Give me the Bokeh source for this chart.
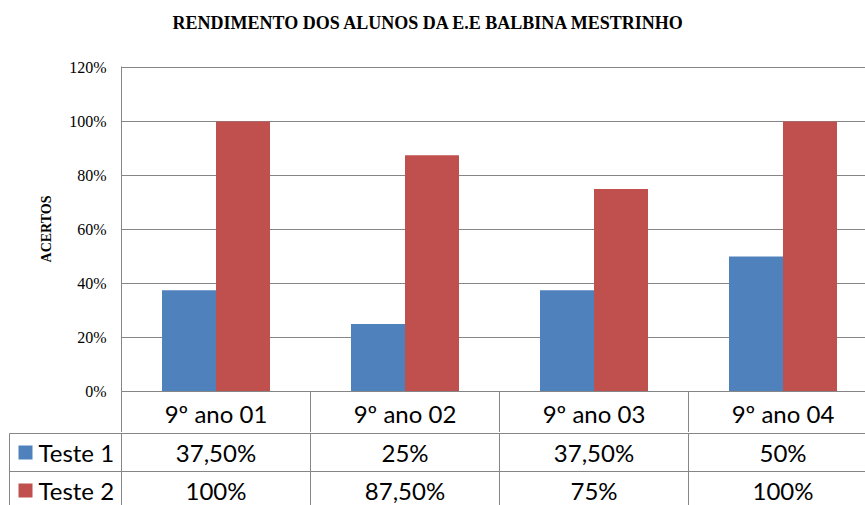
from bokeh.plotting import figure
from bokeh.models import (Range1d, FixedTicker, NumeralTickFormatter, CustomJSTickFormatter,
                          ColumnDataSource, Title)
from bokeh.transform import dodge
from bokeh.core.properties import value
from bokeh.embed import file_html
from bokeh.resources import INLINE

# ---------------- data ----------------
title = "RENDIMENTO DOS  ALUNOS DA E.E BALBINA MESTRINHO"
categories = ["9º ano 01", "9º ano 02", "9º ano 03", "9º ano 04"]
series_names = ["Teste 1", "Teste 2"]
teste1 = [0.375, 0.25, 0.375, 0.50]
teste2 = [1.00, 0.875, 0.75, 1.00]
y_ticks = [0, 0.2, 0.4, 0.6, 0.8, 1.0, 1.2]
y_label = "ACERTOS"

# ---------------- style / layout ----------------
BLUE = "#4F81BD"
RED = "#C0504D"
GRID = "#868686"
SERIF = "Liberation Serif"
SANS = "Lato"
TXT = "24px"

WIDTH = 865
CAT_PX = 189.0           # pixels per category
Y_PX = 270.0             # pixels per 100%
FRAME_LEFT = 121
FRAME_TOP = 66
HEADER_PX = 41           # category header row height (below 0%)
FIG_A_H = 432
ROW_PX = 38.0
FIG_B_H = 505 - FIG_A_H
X_END = (WIDTH - FRAME_LEFT) / CAT_PX
BAR_W = 1 / 3.5          # gap width 150%


def fmt(v):
    pc = v * 100
    if abs(pc - round(pc)) < 1e-9:
        return f"{int(round(pc))}%"
    return f"{pc:.2f}".replace(".", ",") + "%"


centers = [i + 0.5 for i in range(len(categories))]
src = ColumnDataSource(dict(x=centers, t1=teste1, t2=teste2, cat=categories))

# ---------------- chart ----------------
y_top = y_ticks[-1] + 1 / Y_PX
p = figure(width=WIDTH, height=FIG_A_H, output_backend="svg", toolbar_location=None,
           x_range=Range1d(0, X_END), y_range=Range1d(0, y_top),
           min_border_left=FRAME_LEFT, min_border_right=0, min_border_top=FRAME_TOP,
           min_border_bottom=HEADER_PX, outline_line_color=None,
           background_fill_color="white", border_fill_color="white")

# spacer between title and plot area (closest to the frame)
p.add_layout(Title(text=" ", text_font_size="10px", standoff=16), "above")
p.title.text = title
p.title.text_font = SERIF
p.title.text_font_size = "18px"
p.title.text_font_style = "bold"
p.title.align = "left"
p.title.offset = 51
p.title.standoff = 10
p.title.text_color = "black"

p.vbar(x=dodge("x", -BAR_W / 2, range=p.x_range), top="t1", width=BAR_W, source=src,
       fill_color=BLUE, line_color=None)
p.vbar(x=dodge("x", BAR_W / 2, range=p.x_range), top="t2", width=BAR_W, source=src,
       fill_color=RED, line_color=None)

p.xgrid.visible = False
p.ygrid.grid_line_color = GRID
p.ygrid.grid_line_width = 1
p.ygrid.ticker = FixedTicker(ticks=y_ticks)

ya = p.yaxis[0]
ya.ticker = FixedTicker(ticks=y_ticks)
ya.formatter = NumeralTickFormatter(format="0%")
ya.axis_line_color = GRID
ya.major_tick_out = 0
ya.major_tick_in = 0
ya.minor_tick_out = 0
ya.major_label_text_font = SERIF
ya.major_label_text_font_size = "16px"
ya.major_label_text_color = "black"
ya.major_label_standoff = 15
ya.axis_label = y_label
ya.axis_label_text_font = SERIF
ya.axis_label_text_font_size = "14px"
ya.axis_label_text_font_style = "bold"
ya.axis_label_text_color = "black"
ya.axis_label_standoff = 12

# category header row = x axis: minor ticks are the cell separators
xa = p.xaxis[0]
xa.ticker = FixedTicker(ticks=centers, minor_ticks=list(range(len(categories) + 1)))
xa.formatter = CustomJSTickFormatter(args=dict(labels=categories),
                                     code="return labels[Math.floor(tick)];")
xa.axis_line_color = GRID
xa.major_tick_out = 0
xa.major_tick_in = 0
xa.minor_tick_in = 0
xa.minor_tick_out = HEADER_PX
xa.minor_tick_line_color = GRID
xa.major_label_text_font = SANS
xa.major_label_text_font_size = TXT
xa.major_label_text_color = "black"
xa.major_label_standoff = -HEADER_PX + 7

# ---------------- data table rows ----------------
t_start = -FRAME_LEFT / CAT_PX
ty_top = 2 + 1 / ROW_PX
ty_bottom = ty_top - FIG_B_H / ROW_PX
t = figure(width=WIDTH, height=FIG_B_H, output_backend="svg", toolbar_location=None,
           x_range=Range1d(t_start, X_END), y_range=Range1d(ty_bottom, ty_top),
           min_border_left=0, min_border_right=0, min_border_top=0, min_border_bottom=0,
           outline_line_color=None, background_fill_color="white", border_fill_color="white")
t.axis.visible = False
t.grid.visible = False

left_edge = t_start + 9 / CAT_PX
t.segment(x0=[left_edge, left_edge], y0=[2, 1], x1=[X_END, X_END], y1=[2, 1],
          line_color=GRID, line_width=1)
vx = [left_edge] + list(range(len(categories) + 1))
t.segment(x0=vx, y0=[ty_bottom] * len(vx), x1=vx, y1=[2] * len(vx),
          line_color=GRID, line_width=1)

rows_y = [1.5, 0.5]
for vals, name, col, ry in zip([teste1, teste2], series_names, [BLUE, RED], rows_y):
    t.text(x=centers, y=[ry] * len(centers), text=[fmt(v) for v in vals],
           text_font=value(SANS), text_font_size=TXT, text_align="center",
           text_baseline="middle", text_color="black")
    t.scatter(x=[t_start + 25 / CAT_PX], y=[ry], marker="square", size=14,
              fill_color=col, line_color=None)
    t.text(x=[t_start + 38 / CAT_PX], y=[ry], text=[name], text_font=value(SANS),
           text_font_size=TXT, text_align="left", text_baseline="middle",
           text_color="black")

open("out.html", "w").write(file_html([p, t], INLINE))
